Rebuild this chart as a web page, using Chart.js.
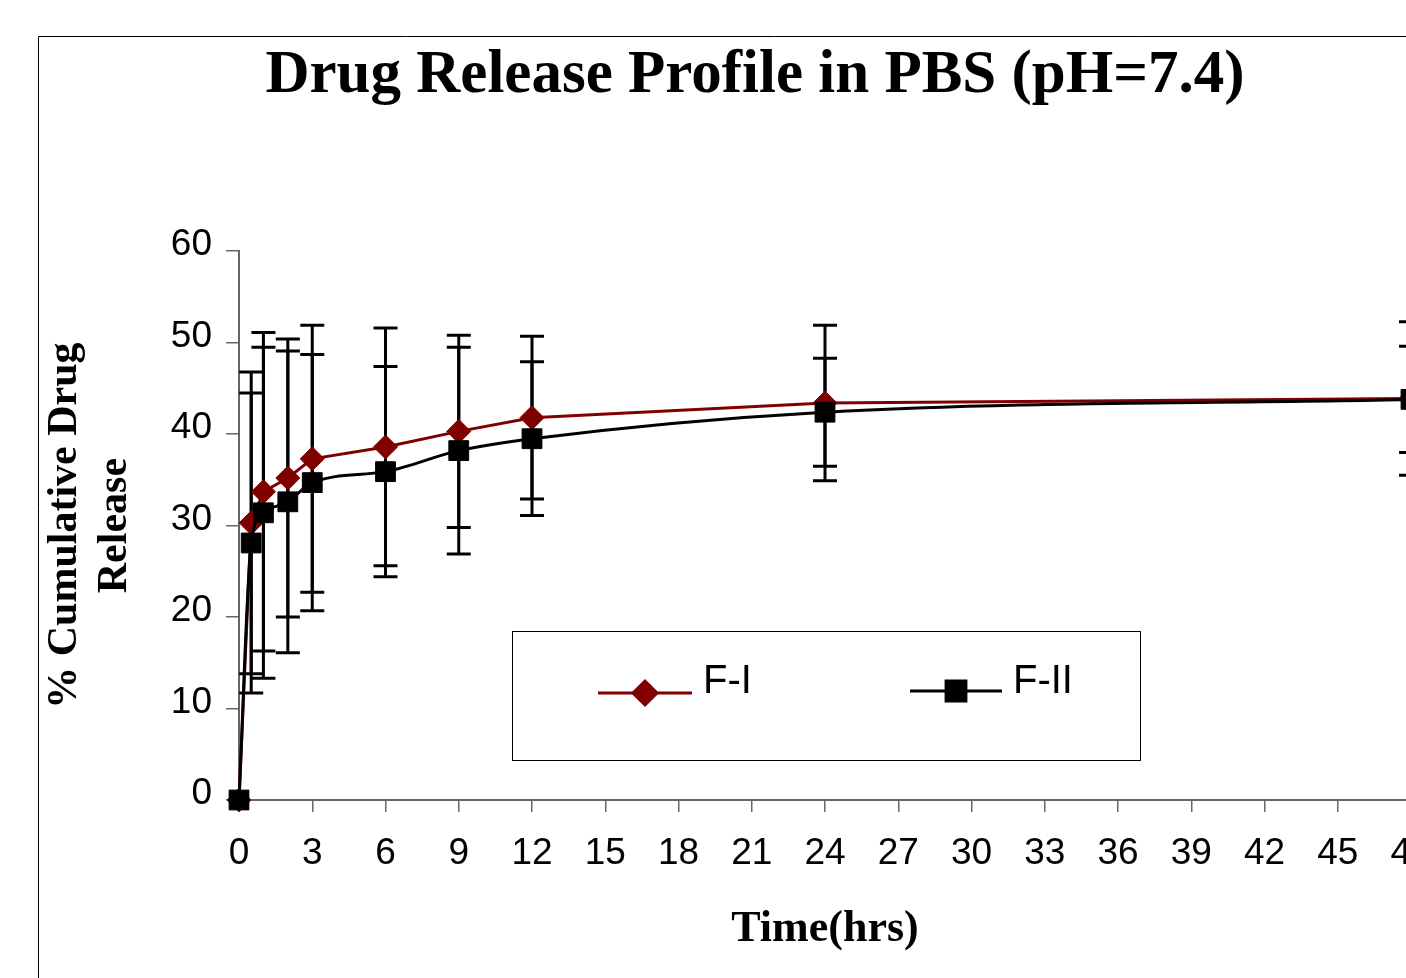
<!DOCTYPE html>
<html>
<head>
<meta charset="utf-8">
<title>Drug Release Profile in PBS</title>
<script src="https://cdn.jsdelivr.net/npm/chart.js@4/dist/chart.umd.min.js"></script>
<style>
    html, body { margin: 0; padding: 0; background: #fff; overflow: hidden; }
    #chart { display: block; }
</style>
</head>
<body>
<canvas id="chart" width="1510" height="978"></canvas>
<script>
// Sampling times (hrs)
const times = [0, 0.5, 1, 2, 3, 6, 9, 12, 24, 48];

// % cumulative drug release, mean and error
const releaseF1 = [0, 30.3, 33.7, 35.2, 37.3, 38.6, 40.3, 41.8, 43.4, 43.9];
const errorF1 = [0, 16.5, 17.4, 15.2, 14.6, 13.0, 10.5, 8.9, 8.5, 8.4];
const releaseF2 = [0, 28.1, 31.4, 32.6, 34.7, 35.9, 38.2, 39.5, 42.4, 43.8];
const errorF2 = [0, 16.4, 18.1, 16.5, 14.0, 11.5, 11.3, 8.4, 5.9, 5.8];

const xTicks = [0, 3, 6, 9, 12, 15, 18, 21, 24, 27, 30, 33, 36, 39, 42, 45, 48];
const yTicks = [0, 10, 20, 30, 40, 50, 60];

const serif = '"Liberation Serif", "Times New Roman", serif';
const sans = '"Liberation Sans", Arial, sans-serif';
const axisGray = '#666';

function toPoints(ys) {
    return times.map((t, i) => ({ x: t, y: ys[i] }));
}

// Outer frame that runs off the page on the right and bottom
const framePlugin = {
    id: 'frame',
    beforeDraw(chart) {
        const ctx = chart.ctx;
        ctx.save();
        ctx.fillStyle = '#fff';
        ctx.fillRect(0, 0, chart.width, chart.height);
        ctx.strokeStyle = '#000';
        ctx.lineWidth = 1;
        ctx.beginPath();
        ctx.moveTo(38.5, chart.height);
        ctx.lineTo(38.5, 36.5);
        ctx.lineTo(chart.width, 36.5);
        ctx.stroke();
        ctx.restore();
    }
};

// Error bars for both series, drawn under the lines
const errorBarPlugin = {
    id: 'errorBars',
    beforeDatasetsDraw(chart) {
        const ctx = chart.ctx;
        const yScale = chart.scales.y;
        ctx.save();
        ctx.strokeStyle = '#000';
        ctx.lineWidth = 3;
        chart.data.datasets.forEach((ds, i) => {
            const meta = chart.getDatasetMeta(i);
            meta.data.forEach((pt, j) => {
                const err = ds.errors[j];
                if (!err) return;
                const v = ds.data[j].y;
                const top = yScale.getPixelForValue(v + err);
                const bot = yScale.getPixelForValue(v - err);
                ctx.beginPath();
                ctx.moveTo(pt.x, top);
                ctx.lineTo(pt.x, bot);
                ctx.moveTo(pt.x - 12, top);
                ctx.lineTo(pt.x + 12, top);
                ctx.moveTo(pt.x - 12, bot);
                ctx.lineTo(pt.x + 12, bot);
                ctx.stroke();
            });
        });
        ctx.restore();
    }
};

// Boxed legend sitting inside the plot
const boxLegendPlugin = {
    id: 'boxLegend',
    afterDraw(chart) {
        const ctx = chart.ctx;
        const items = [
            { ds: chart.data.datasets[0], x1: 598, x2: 692, y: 693, tx: 703 },
            { ds: chart.data.datasets[1], x1: 910, x2: 1002, y: 691, tx: 1013 }
        ];
        ctx.save();
        ctx.strokeStyle = '#000';
        ctx.lineWidth = 1;
        ctx.strokeRect(512.5, 631.5, 628, 129);
        items.forEach(it => {
            ctx.strokeStyle = it.ds.borderColor;
            ctx.lineWidth = 3;
            ctx.beginPath();
            ctx.moveTo(it.x1, it.y);
            ctx.lineTo(it.x2, it.y);
            ctx.stroke();
            ctx.fillStyle = it.ds.pointBackgroundColor;
            ctx.strokeStyle = it.ds.pointBorderColor;
            Chart.helpers.drawPoint(ctx, {
                pointStyle: it.ds.pointStyle,
                radius: it.ds.pointRadius,
                borderWidth: 1,
                rotation: 0
            }, (it.x1 + it.x2) / 2, it.y);
            ctx.fillStyle = '#000';
            ctx.font = '40px ' + sans;
            ctx.textAlign = 'left';
            ctx.textBaseline = 'middle';
            ctx.fillText(it.ds.label, it.tx, 682);
        });
        ctx.restore();
    }
};

const ctx = document.getElementById('chart').getContext('2d');
new Chart(ctx, {
    type: 'line',
    data: {
        datasets: [{
            label: 'F-I',
            data: toPoints(releaseF1),
            errors: errorF1,
            borderColor: '#800000',
            borderWidth: 3,
            pointStyle: 'rectRot',
            pointRadius: 12,
            pointBackgroundColor: '#800000',
            pointBorderColor: '#800000',
            pointBorderWidth: 1,
            tension: 0,
            clip: false,
            order: 2
        }, {
            label: 'F-II',
            data: toPoints(releaseF2),
            errors: errorF2,
            borderColor: '#000',
            borderWidth: 3,
            pointStyle: 'rect',
            pointRadius: 14,
            pointBackgroundColor: '#000',
            pointBorderColor: '#000',
            pointBorderWidth: 1,
            cubicInterpolationMode: 'monotone',
            clip: false,
            order: 1
        }]
    },
    options: {
        responsive: false,
        animation: false,
        events: [],
        layout: {
            padding: 0
        },
        plugins: {
            legend: { display: false },
            tooltip: { enabled: false },
            title: {
                display: true,
                text: 'Drug Release Profile in PBS (pH=7.4)',
                color: '#000',
                font: { family: serif, size: 61, weight: 'bold', lineHeight: 1.2 },
                padding: { top: 40, bottom: 138 }
            }
        },
        scales: {
            x: {
                type: 'linear',
                min: 0,
                max: 48,
                afterFit(scale) { scale.height = 178; },
                afterBuildTicks(scale) { scale.ticks = xTicks.map(v => ({ value: v })); },
                border: { color: axisGray, width: 2 },
                grid: { drawOnChartArea: false, color: axisGray, tickLength: 12, lineWidth: 1.5 },
                ticks: {
                    color: '#000',
                    font: { family: sans, size: 37 },
                    padding: 20,
                    maxRotation: 0,
                    autoSkip: false
                },
                title: {
                    display: true,
                    text: 'Time(hrs)',
                    color: '#000',
                    font: { family: serif, size: 44, weight: 'bold', lineHeight: 1.2 },
                    padding: { top: 0, bottom: 22 }
                }
            },
            y: {
                min: 0,
                max: 60,
                afterFit(scale) { scale.width = 239; },
                afterBuildTicks(scale) { scale.ticks = yTicks.map(v => ({ value: v })); },
                border: { color: axisGray, width: 2 },
                grid: { drawOnChartArea: false, color: axisGray, tickLength: 13, lineWidth: 1.5 },
                ticks: {
                    color: '#000',
                    font: { family: sans, size: 37 },
                    padding: 14,
                    labelOffset: -6
                },
                title: {
                    display: true,
                    text: ['% Cumulative Drug', 'Release'],
                    color: '#000',
                    font: { family: serif, size: 42, weight: 'bold', lineHeight: 1.2 },
                    padding: { top: 40, bottom: 0 }
                }
            },
            // empty right-hand axis: keeps the plot edge at t=48 past the page
            spacer: {
                position: 'right',
                min: 0,
                max: 1,
                afterFit(scale) { scale.width = 99; },
                grid: { display: false },
                border: { display: false },
                ticks: { display: false }
            }
        }
    },
    plugins: [framePlugin, errorBarPlugin, boxLegendPlugin]
});
</script>
</body>
</html>
